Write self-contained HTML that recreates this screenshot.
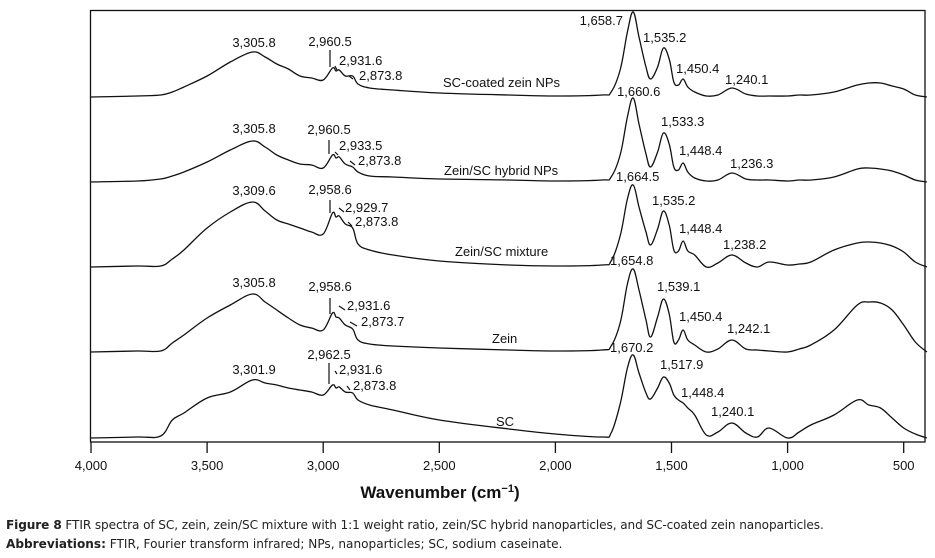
<!DOCTYPE html>
<html><head><meta charset="utf-8"><style>
body{margin:0;background:#fff;}
svg text{font-family:"Liberation Sans",Arial,sans-serif;fill:#111;}
.cap{position:absolute;left:6px;font-family:"DejaVu Sans","Liberation Sans",sans-serif;font-size:12.1px;color:#222;white-space:nowrap;}
</style></head><body>
<div style="position:relative;width:935px;height:558px;overflow:hidden">
<svg id="chart" width="935" height="558" style="position:absolute;left:0;top:0"></svg>
<div class="cap" style="top:518px;letter-spacing:-0.1px"><b>Figure 8</b> FTIR spectra of SC, zein, zein/SC mixture with 1:1 weight ratio, zein/SC hybrid nanoparticles, and SC-coated zein nanoparticles.</div>
<div class="cap" style="top:537px"><b>Abbreviations:</b> FTIR, Fourier transform infrared; NPs, nanoparticles; SC, sodium caseinate.</div>
</div>
<script>
const wavenumbers=[4000,3800,3700,3650,3600,3500,3400,3305,3250,3200,3150,3100,3050,3000,2960,2945,2931,2905,2873,2850,2800,2700,2500,2200,2000,1800,1760,1720,1690,1665,1640,1610,1590,1560,1535,1510,1490,1470,1450,1430,1400,1350,1300,1240,1180,1130,1080,1000,950,900,800,700,650,600,550,500,450,400];
const scCoated=[0,1,2,5,10,21,35,45,40,33,28,21,19,17,29,26,27,21,21,13,9,7,4,2,1,2,5,28,65,85,60,30,18,30,49,38,15,12,18,10,5,1,2,9,3,1,1,1,2,2,5,12,14,14,11,8,2,0];
const hybrid=[0,1,3,6,10,20,32,41,35,27,22,18,17,14,27,24,25,18,15,10,6,5,3,2,1,2,5,28,65,84,58,28,15,30,49,38,15,12,19,10,4,1,2,9,3,2,2,1,2,2,5,13,14,13,11,7,2,0];
const mixture=[0,1,1,8,17,39,55,65,56,47,43,39,35,33,54,50,51,43,39,23,17,12,6,2,1,2,6,32,68,82,60,35,22,38,56,42,17,16,26,16,12,0,4,12,4,0,5,2,3,5,17,24,25,24,21,15,5,0];
const zein=[0,1,1,9,17,34,47,58,50,42,34,27,24,22,39,35,34,27,23,12,8,6,4,2,1,2,6,30,68,83,62,32,15,35,53,38,10,12,22,12,7,0,3,12,3,2,1,0,3,7,22,47,50,49,42,27,10,0];
const sc=[0,1,2,18,25,40,46,58,55,53,50,48,46,43,53,50,51,46,45,38,33,28,18,9,4,1,5,35,70,83,65,45,39,50,61,55,43,38,35,30,23,3,6,15,5,1,10,0,6,13,23,38,33,30,20,10,4,0];
const seriesNames=["SC-coated zein NPs","Zein/SC hybrid NPs","Zein/SC mixture","Zein","SC"];
const seriesData=[scCoated,hybrid,mixture,zein,sc];
const baselines=[97,182,267,352,438];
const xTicks=[4000,3500,3000,2500,2000,1500,1000,500];
const xTickLabels=["4,000","3,500","3,000","2,500","2,000","1,500","1,000","500"];

const NS="http://www.w3.org/2000/svg";
const svg=document.getElementById('chart');
function xs(w){return 91+(4000-w)*0.2322;}
function ys(v,i){return baselines[i]-v;}
function mk(tag,attrs,parent){const e=document.createElementNS(NS,tag);for(const k in attrs)e.setAttribute(k,attrs[k]);(parent||svg).appendChild(e);return e;}

const frame=mk('rect',{x:90.5,y:10.5,width:834.5,height:431.5,fill:'none',stroke:'#111','stroke-width':1.3});



xTicks.forEach((t,i)=>{
  const l=mk('line',{x1:xs(t),x2:xs(t),y1:442,y2:453,stroke:'#111','stroke-width':1.3});
  
  
  const tx=mk('text',{x:xs(t),y:470,'text-anchor':'middle','font-size':13});
  tx.textContent=xTickLabels[i];
  
  
});
const title=mk('text',{x:440,y:498,'text-anchor':'middle','font-size':17,'font-weight':'bold'});
title.innerHTML='Wavenumber (cm<tspan font-size="11" dy="-6">−1</tspan><tspan dy="6">)</tspan>';



function smoothPath(pts){
  let d='M'+pts[0][0].toFixed(1)+','+pts[0][1].toFixed(1);
  for(let i=0;i<pts.length-1;i++){
    const p0=pts[Math.max(0,i-1)],p1=pts[i],p2=pts[i+1],p3=pts[Math.min(pts.length-1,i+2)];
    const t=0.18;
    const c1=[p1[0]+(p2[0]-p0[0])*t,p1[1]+(p2[1]-p0[1])*t];
    const c2=[p2[0]-(p3[0]-p1[0])*t,p2[1]-(p3[1]-p1[1])*t];
    d+='C'+c1[0].toFixed(1)+','+c1[1].toFixed(1)+' '+c2[0].toFixed(1)+','+c2[1].toFixed(1)+' '+p2[0].toFixed(1)+','+p2[1].toFixed(1);
  }
  return d;
}
seriesData.forEach((arr,i)=>{
  const pts=arr.map((v,j)=>[xs(wavenumbers[j]),ys(v,i)]);
  const p=mk('path',{d:smoothPath(pts),fill:'none',stroke:'#111','stroke-width':1.3,'stroke-linejoin':'round'});
  
  
});

const nameLabels=[[443,87],[444,175],[455,256],[492,343],[496,426]];
seriesNames.forEach((n,i)=>{
  const t=mk('text',{x:nameLabels[i][0],y:nameLabels[i][1],'font-size':13});
  t.textContent=n;
  
  
});

const peaks=[
["3,305.8",254,47,"middle"],["2,960.5",330,46,"middle"],["2,931.6",339,65,"start"],["2,873.8",359,80,"start"],
["1,658.7",623,25,"end"],["1,535.2",643,42,"start"],["1,450.4",676,73,"start"],["1,240.1",725,84,"start"],
["3,305.8",254,133,"middle"],["2,960.5",329,134,"middle"],["2,933.5",339,150,"start"],["2,873.8",358,165,"start"],
["1,660.6",617,96,"start"],["1,533.3",661,126,"start"],["1,448.4",679,155,"start"],["1,236.3",730,168,"start"],
["3,309.6",254,195,"middle"],["2,958.6",330,194,"middle"],["2,929.7",345,212,"start"],["2,873.8",355,226,"start"],
["1,664.5",616,181,"start"],["1,535.2",652,205,"start"],["1,448.4",679,233,"start"],["1,238.2",723,249,"start"],
["3,305.8",254,287,"middle"],["2,958.6",330,291,"middle"],["2,931.6",347,310,"start"],["2,873.7",361,326,"start"],
["1,654.8",610,265,"start"],["1,539.1",657,291,"start"],["1,450.4",679,321,"start"],["1,242.1",727,333,"start"],
["3,301.9",254,374,"middle"],["2,962.5",329,359,"middle"],["2,931.6",339,374,"start"],["2,873.8",353,390,"start"],
["1,670.2",610,352,"start"],["1,517.9",660,369,"start"],["1,448.4",681,397,"start"],["1,240.1",711,416,"start"]];
peaks.forEach(p=>{
  const t=mk('text',{x:p[1],y:p[2],'font-size':13,'text-anchor':p[3]});
  t.textContent=p[0];
  
  
});
const leaders=[[330,50,330,67],[329,140,329,154],[330,200,330,213],[330,298,330,314],[329,363,329,384],
[337,70,335,66],[353,79,349,76],[338,155,335,152],[355,165,350,161],[344,212,339,208],[352,226,348,222],[345,310,339,306],[357,326,350,322],[337,374,335,371],[350,390,347,386]];
leaders.forEach(l=>{
  const e=mk('line',{x1:l[0],y1:l[1],x2:l[2],y2:l[3],stroke:'#111','stroke-width':1.2});
  
  
});
</script>
</body></html>
